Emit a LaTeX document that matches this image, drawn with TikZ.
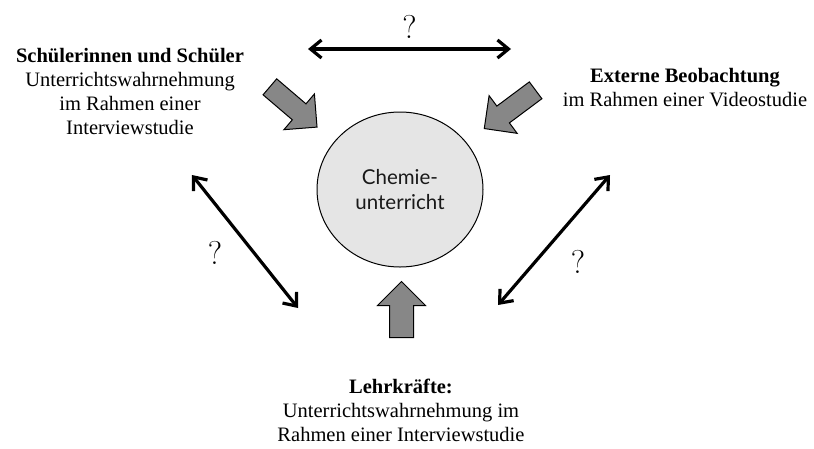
\documentclass[tikz,border=0pt]{standalone}
\usepackage{fontspec}
\newfontfamily\blockfont{Liberation Serif}
\newfontfamily\circlefont{Lato}
\usepackage{tikz}
\usetikzlibrary{arrows.meta}
\usetikzlibrary{shapes.geometric,shapes.arrows}
\tikzset{>={Straight Barb[length=11pt,width=18pt]}}
\tikzset{
  source/.style={align=center, inner sep=0pt,
    font=\blockfont\fontsize{20.5}{24}\selectfont},
  blockarrow/.style={single arrow, draw=black, line width=1pt, fill=black!47,
    anchor=tail, inner sep=10pt, single arrow head extend=13pt},
  relation/.style={<->, line width=3.2pt},
  question/.style={inner sep=0pt, font=\fontsize{33}{36}\selectfont}
}

\begin{document}
\begin{tikzpicture}

  \useasboundingbox (0pt,0pt) rectangle (814pt,-448pt);

  %% lesson
  \node[ellipse, draw, line width=1pt, fill=black!10, text=black!90,
  minimum width=166pt, minimum height=155pt, align=center,
  font=\circlefont\fontsize{20.5}{25}\selectfont]
  (lesson) at (400pt,-189.5pt) {Chemie-\\unterricht};

  %% perspectives
  \node[source] (pupils) at (130pt,-91pt)
  {\textbf{Schülerinnen und Schüler}\\Unterrichtswahrnehmung\\im Rahmen einer\\Interviewstudie};
  \node[source] (observer) at (685pt,-87.5pt)
  {\textbf{Externe Beobachtung}\\im Rahmen einer Videostudie};
  \node[source] (teachers) at (401pt,-410pt)
  {\textbf{Lehrkräfte:}\\Unterrichtswahrnehmung im\\Rahmen einer Interviewstudie};

  %% perspective to lesson
  \node[blockarrow, minimum height=62pt, rotate=-40.5]
  (pupilsarrow) at (269.5pt,-86.5pt) {};
  \node[blockarrow, minimum height=64pt, rotate=216.7]
  (observerarrow) at (536pt,-90pt) {};
  \node[blockarrow, minimum height=56pt, rotate=90, inner sep=11.5pt,
  single arrow head extend=12pt]
  (teachersarrow) at (401.5pt,-338pt) {};

  %% open questions
  \coordinate (topleft) at (308pt,-49pt);
  \coordinate (topright) at (511pt,-49pt);
  \coordinate (leftup) at (192pt,-175pt);
  \coordinate (leftdown) at (298pt,-308pt);
  \coordinate (rightup) at (610pt,-175pt);
  \coordinate (rightdown) at (498pt,-305pt);

  \draw[relation] (topleft) -- node[question, midway, yshift=22pt] (q1) {?} (topright);
  \draw[relation] (leftup) -- node[question, midway, xshift=-30pt, yshift=-11.5pt] (q2) {?} (leftdown);
  \draw[relation] (rightup) -- node[question, midway, xshift=24pt, yshift=-22pt] (q3) {?} (rightdown);

\end{tikzpicture}
\end{document}
